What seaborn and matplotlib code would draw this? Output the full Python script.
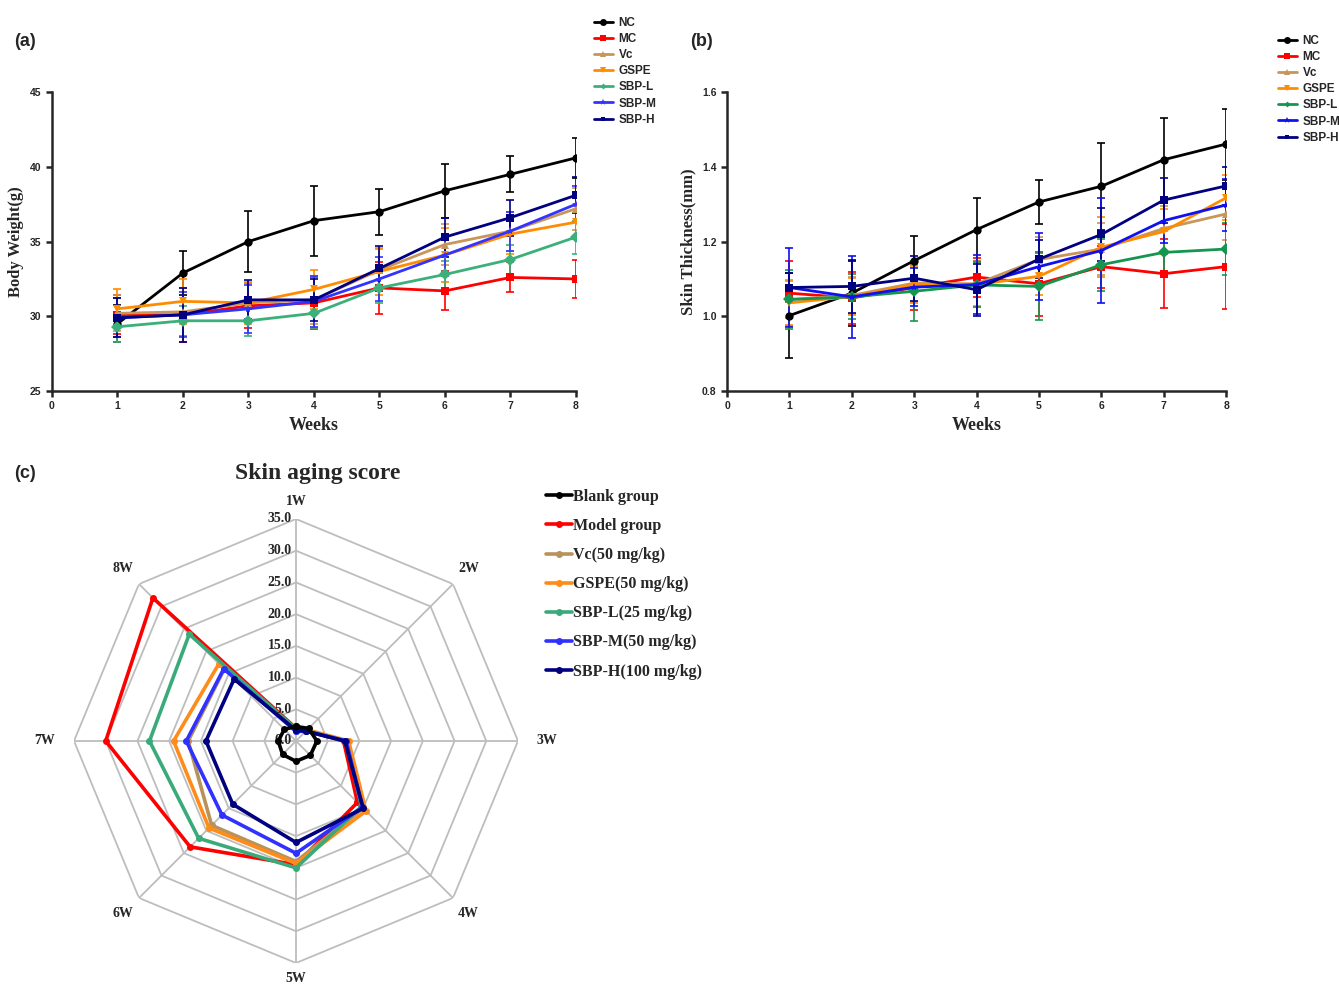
import numpy as np
import pandas as pd
import matplotlib
matplotlib.use("Agg")
import matplotlib.pyplot as plt
import seaborn as sns

weeks = [1, 2, 3, 4, 5, 6, 7, 8]
groups = ["NC", "MC", "Vc", "GSPE", "SBP-L", "SBP-M", "SBP-H"]

# (a) body weight, mean and SD
bw_mean = {
    "NC":    [29.5, 32.9, 35.0, 36.4, 37.0, 38.4, 39.5, 40.6],
    "MC":    [30.1, 30.1, 30.7, 30.9, 31.9, 31.7, 32.6, 32.5],
    "Vc":    [30.2, 30.3, 30.9, 31.1, 33.1, 34.8, 35.7, 37.2],
    "GSPE":  [30.5, 31.0, 30.9, 31.8, 33.0, 34.1, 35.5, 36.3],
    "SBP-L": [29.3, 29.7, 29.7, 30.2, 31.9, 32.8, 33.8, 35.3],
    "SBP-M": [29.9, 30.1, 30.5, 31.0, 32.5, 34.1, 35.7, 37.5],
    "SBP-H": [29.9, 30.1, 31.1, 31.1, 33.2, 35.3, 36.6, 38.1],
}
bw_sd = {
    "NC":    [1.25, 1.5, 2.05, 2.35, 1.55, 1.8, 1.2, 1.35],
    "MC":    [1.3, 1.8, 1.5, 1.75, 1.75, 1.3, 1.0, 1.25],
    "Vc":    [1.2, 1.6, 1.3, 1.6, 1.4, 1.4, 1.3, 1.4],
    "GSPE":  [1.3, 1.5, 1.4, 1.3, 1.6, 1.8, 1.3, 1.1],
    "SBP-L": [1.0, 1.0, 1.0, 1.0, 1.0, 0.9, 1.0, 1.1],
    "SBP-M": [1.3, 1.5, 1.6, 1.7, 1.5, 1.4, 1.3, 1.2],
    "SBP-H": [1.3, 1.8, 1.3, 1.4, 1.5, 1.3, 1.2, 1.2],
}

# (b) skin thickness, mean and SD
st_mean = {
    "NC":    [1.002, 1.062, 1.149, 1.232, 1.306, 1.348, 1.419, 1.461],
    "MC":    [1.062, 1.049, 1.077, 1.105, 1.087, 1.133, 1.114, 1.133],
    "Vc":    [1.045, 1.056, 1.089, 1.087, 1.152, 1.180, 1.235, 1.274],
    "GSPE":  [1.036, 1.053, 1.085, 1.085, 1.107, 1.185, 1.227, 1.317],
    "SBP-L": [1.045, 1.052, 1.067, 1.084, 1.080, 1.138, 1.171, 1.180],
    "SBP-M": [1.077, 1.052, 1.078, 1.085, 1.133, 1.176, 1.256, 1.298],
    "SBP-H": [1.077, 1.080, 1.102, 1.071, 1.153, 1.219, 1.311, 1.349],
}
st_sd = {
    "NC":    [0.114, 0.087, 0.067, 0.085, 0.060, 0.116, 0.112, 0.095],
    "MC":    [0.087, 0.070, 0.060, 0.052, 0.085, 0.056, 0.092, 0.113],
    "Vc":    [0.050, 0.050, 0.050, 0.060, 0.060, 0.070, 0.060, 0.070],
    "GSPE":  [0.060, 0.050, 0.050, 0.060, 0.050, 0.080, 0.060, 0.060],
    "SBP-L": [0.080, 0.060, 0.080, 0.060, 0.090, 0.070, 0.060, 0.070],
    "SBP-M": [0.105, 0.110, 0.050, 0.080, 0.090, 0.140, 0.060, 0.070],
    "SBP-H": [0.040, 0.070, 0.060, 0.070, 0.050, 0.070, 0.060, 0.050],
}

# (c) skin aging score
radar_axes = ["1W", "2W", "3W", "4W", "5W", "6W", "7W", "8W"]
radar_groups = ["Blank group", "Model group", "Vc(50 mg/kg)", "GSPE(50 mg/kg)",
                "SBP-L(25 mg/kg)", "SBP-M(50 mg/kg)", "SBP-H(100 mg/kg)"]
score = {
    "Blank group":      [2.3, 2.8, 3.3, 3.2, 3.2, 3.0, 2.8, 2.6],
    "Model group":      [2.0, 2.3, 7.5, 13.7, 19.5, 23.6, 30.0, 31.9],
    "Vc(50 mg/kg)":     [1.8, 2.3, 7.8, 15.0, 19.0, 18.8, 17.0, 16.0],
    "GSPE(50 mg/kg)":   [1.8, 2.5, 8.3, 15.6, 19.3, 19.4, 19.3, 17.2],
    "SBP-L(25 mg/kg)":  [1.9, 2.3, 7.9, 14.6, 20.0, 21.7, 23.1, 23.8],
    "SBP-M(50 mg/kg)":  [1.5, 2.2, 7.9, 14.8, 17.7, 16.5, 17.3, 16.1],
    "SBP-H(100 mg/kg)": [1.7, 2.2, 7.7, 15.0, 16.0, 14.1, 14.2, 13.8],
}

colors_a = ["#000000", "#FF0000", "#C8955A", "#FF8C00", "#3CB07A", "#3333FF", "#000080"]
colors_b = ["#000000", "#FF0000", "#C8955A", "#FF8C00", "#159650", "#1010F0", "#000080"]
colors_c = ["#000000", "#FF0000", "#B8925A", "#FF8C1A", "#3AAA7A", "#3030FF", "#000080"]
markers = ["o", "s", "^", "v", "D", "*", "s"]
msizes = [5, 5, 5, 5, 3, 5, 3.5]

sns.set_style("ticks")
plt.rcParams["font.family"] = ["Liberation Sans", "DejaVu Sans"]
SERIF = ["Liberation Serif", "DejaVu Serif"]

fig = plt.figure(figsize=(13.39, 9.86), dpi=100)


def line_panel(rect, mean, sd, colors, ylim, yticks, ylabel, yfmt, legend_pos):
    ax = fig.add_axes(rect)
    df = pd.DataFrame([(g, w, m) for g in groups for w, m in zip(weeks, mean[g])],
                      columns=["group", "week", "value"])
    for i, g in enumerate(groups):
        ax.errorbar(weeks, mean[g], yerr=sd[g], fmt="none", ecolor=colors[i],
                    elinewidth=1.4, capsize=3, capthick=1.4, alpha=0.85, zorder=2)
    sns.lineplot(data=df, x="week", y="value", hue="group", hue_order=groups,
                 palette=colors, style="group", style_order=groups,
                 markers=dict(zip(groups, markers)), dashes=False,
                 linewidth=2, markersize=6, markeredgewidth=0, ax=ax, zorder=3)
    for ln, ms in zip(ax.lines[-len(groups):], msizes):
        ln.set_markersize(ms)
    ax.set_xlim(0, 8)
    ax.set_ylim(*ylim)
    ax.set_xticks(range(0, 9))
    ax.set_yticks(yticks)
    ax.set_yticklabels([yfmt.format(v) for v in yticks])
    for lab in ax.get_xticklabels() + ax.get_yticklabels():
        lab.set_fontweight("bold")
        lab.set_fontsize(7.5)
    ax.tick_params(width=1.8, length=4)
    for s in ["left", "bottom"]:
        ax.spines[s].set_linewidth(1.8)
    sns.despine(ax=ax)
    ax.set_xlabel("Weeks", family=SERIF, fontweight="bold", fontsize=13)
    ax.set_ylabel(ylabel, family=SERIF, fontweight="bold", fontsize=12)
    handles, labels = ax.get_legend_handles_labels()
    ax.legend(handles, labels, loc="upper left", bbox_to_anchor=legend_pos,
              bbox_transform=fig.transFigure, frameon=False,
              prop={"weight": "bold", "size": 8.5}, handlelength=1.6,
              labelspacing=0.35, borderpad=0, handletextpad=0.5)
    return ax


line_panel([0.0388, 0.6034, 0.3913, 0.3032], bw_mean, bw_sd, colors_a,
           (25, 45), [25, 30, 35, 40, 45], "Body Weight(g)", "{:g}",
           (588 / 1339, 1 - 11 / 986))
line_panel([0.5430, 0.6034, 0.3727, 0.3032], st_mean, st_sd, colors_b,
           (0.8, 1.6), [0.8, 1.0, 1.2, 1.4, 1.6], "Skin Thickness(mm)", "{:.1f}",
           (1272 / 1339, 1 - 29 / 986))

# radar
axr = fig.add_axes([74 / 1339, 1 - 963 / 986, 444 / 1339, 444 / 986], projection="polar")
axr.set_theta_zero_location("N")
axr.set_theta_direction(-1)
theta = np.deg2rad(np.arange(0, 360, 45))
theta_c = np.append(theta, theta[0])
rings = [5, 10, 15, 20, 25, 30, 35]
for r in rings:
    axr.plot(theta_c, [r] * len(theta_c), color="#BDBDBD", lw=1.3, zorder=1)
for t in theta:
    axr.plot([t, t], [0, 35], color="#BDBDBD", lw=1.3, zorder=1)
for i, g in enumerate(radar_groups):
    vals = score[g] + score[g][:1]
    axr.plot(theta_c, vals, color=colors_c[i], lw=2.6, marker="o", markersize=4,
             label=g, zorder=3 + (i == 0))
axr.set_ylim(0, 35)
axr.grid(False)
axr.spines["polar"].set_visible(False)
axr.set_xticks([])
axr.set_yticks([])
for r in [0] + rings:
    axr.annotate(f"{r:.1f}", xy=(0, r), xytext=(-3, 0), textcoords="offset points",
                 ha="right", va="center", family=SERIF, fontweight="bold", fontsize=10)
label_r = [37.8, 38.5, 39.6, 38.5, 37.5, 38.5, 39.6, 38.5]
for t, lab, rr in zip(theta, radar_axes, label_r):
    axr.text(t, rr, lab, ha="center", va="center", family=SERIF,
             fontweight="bold", fontsize=10)
fig.text(318 / 1339, 1 - 473 / 986, "Skin aging score", ha="center", va="center",
         family=SERIF, fontweight="bold", fontsize=17)
fig.legend(*axr.get_legend_handles_labels(), loc="upper left",
           bbox_to_anchor=(538 / 1339, 1 - 481 / 986), frameon=False,
           prop={"family": SERIF, "weight": "bold", "size": 11.5},
           handlelength=1.6, handletextpad=0.1, labelspacing=0.82, borderpad=0)

for x, y, lab in [(14, 42, "(a)"), (690, 42, "(b)"), (14, 474, "(c)")]:
    fig.text(x / 1339, 1 - y / 986, lab, fontweight="bold", fontsize=13,
             ha="left", va="center")

fig.savefig("out.png", dpi=100)
